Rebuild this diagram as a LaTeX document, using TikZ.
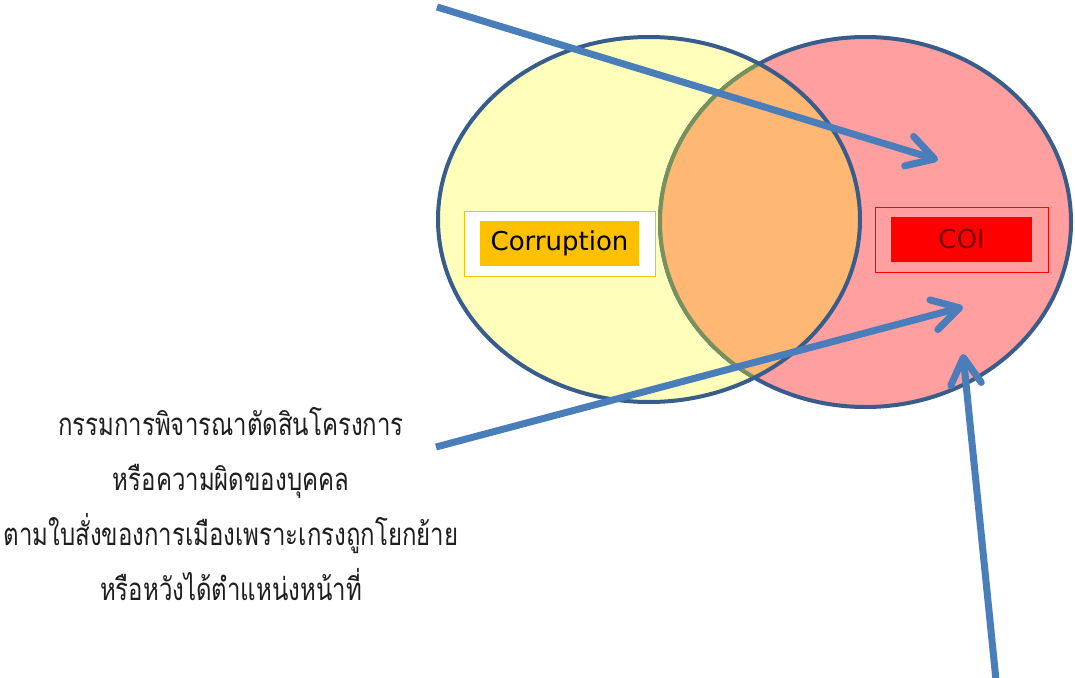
\documentclass[tikz,border=0pt]{standalone}
\usepackage{fontspec}
\usepackage{graphicx}
\usetikzlibrary{arrows.meta}
\newfontfamily\thaifont[Script=Thai]{Loma}
\newfontfamily\labelfont{DejaVu Sans}
\definecolor{yelc}{RGB}{255,255,187}
\definecolor{pinkc}{RGB}{255,159,159}
\definecolor{orangec}{RGB}{255,184,115}
\definecolor{olivec}{RGB}{118,144,94}
\definecolor{outlinec}{RGB}{56,93,138}
\definecolor{arrowc}{RGB}{74,126,187}
\definecolor{goldc}{RGB}{255,192,0}
\definecolor{coitext}{RGB}{122,0,0}
\definecolor{thaitext}{RGB}{30,30,30}
\tikzset{
  venn/.style={line width=3pt},
  arr/.style={draw=arrowc, line width=5.25pt,
    -{Straight Barb[length=20pt,width=23pt,round]}},
  lbl/.style={font=\labelfont\fontsize{19.5}{22}\selectfont, inner sep=0pt},
}
\begin{document}
\begin{tikzpicture}[x=0.75pt,y=-0.75pt]
\fill[white] (0,0) rectangle (1075,678);
\useasboundingbox (0,0) rectangle (1075,678);
\coordinate (cL) at (649,219.5);
\coordinate (cR) at (865.5,222);
\fill[yelc] (cL) ellipse [x radius=211, y radius=182.5];
\fill[pinkc] (cR) ellipse [x radius=205.5, y radius=185];
\draw[venn, outlinec] (cR) ellipse [x radius=205.5, y radius=185];
\begin{scope}
  \clip (cL) ellipse [x radius=211, y radius=182.5];
  \fill[orangec] (cR) ellipse [x radius=205.5, y radius=185];
  \draw[venn, olivec] (cR) ellipse [x radius=205.5, y radius=185];
\end{scope}
\draw[venn, outlinec] (cL) ellipse [x radius=211, y radius=182.5];

% labels
\node[draw=goldc, line width=0.75pt, fill=white, minimum width=143.25pt, minimum height=48.75pt, inner sep=0pt] (corrbox) at (559.5,243.5) {};
\node[lbl, fill=goldc, text=black, minimum width=119.25pt, minimum height=33.75pt] (corr) at (corrbox.center) {Corruption};
\node[draw=red, line width=0.75pt, minimum width=129.75pt, minimum height=48.75pt, inner sep=0pt] (coibox) at (961.5,239.5) {};
\node[lbl, fill=red, text=coitext, minimum width=105.75pt, minimum height=33.75pt] (coi) at (coibox.center) {COI};

% text
\node[inner sep=0pt, text=thaitext] (txt) at (231,507)
 {\scalebox{1}[1.3]{\thaifont\fontsize{18}{31.8}\selectfont
  \begin{tabular}{@{}c@{}}
  กรรมการพิจารณาตัดสินโครงการ\\
  หรือความผิดของบุคคล\\
  ตามใบสั่งของการเมืองเพราะเกรงถูกโยกย้าย\\
  หรือหวังได้ตำแหน่งหน้าที่
  \end{tabular}}};

% arrows
\coordinate (a1s) at (437,7);
\coordinate (a1t) at (938,160);
\coordinate (a2s) at (436,447);
\coordinate (a2t) at (963,307);
\coordinate (a3s) at (997,690);
\coordinate (a3t) at (963,354);
\draw[arr] (a1s) -- (a1t);
\draw[arr] (a2s) -- (a2t);
\draw[arr] (a3s) -- (a3t);
\end{tikzpicture}
\end{document}
